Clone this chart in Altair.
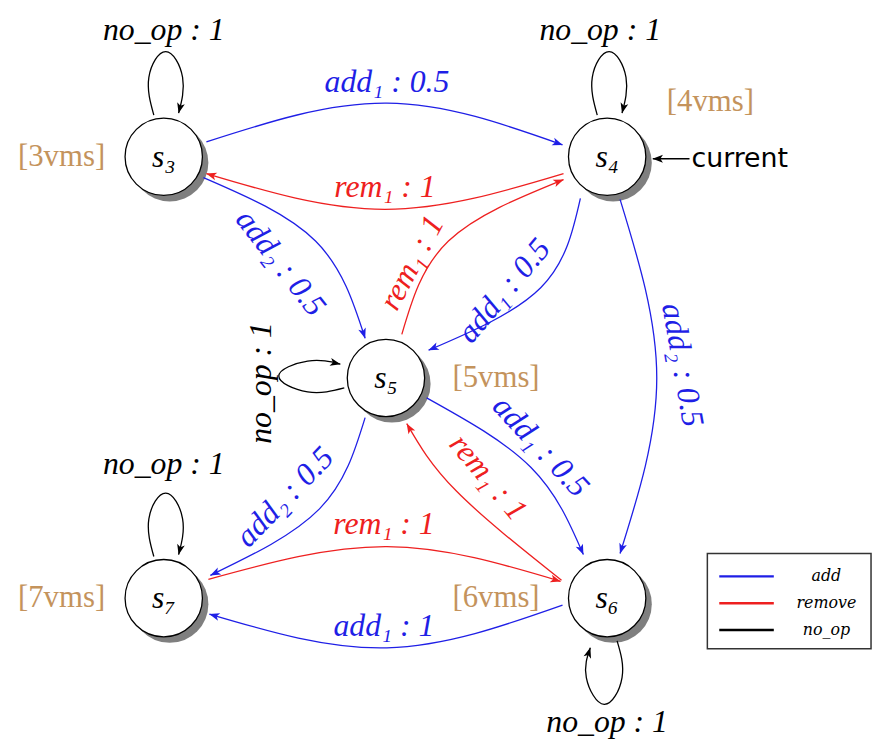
import math
import altair as alt
import pandas as pd

# ---------------- data ----------------
node_labels = ["s₃", "s₄", "s₅", "s₆", "s₇"]
node_x = [165, 612, 389, 612, 165]
node_y = [155, 155, 378, 600, 600]

vm_labels = ["[3vms]", "[4vms]", "[5vms]", "[6vms]", "[7vms]"]
vm_x = [62, 716, 500, 500, 62]
vm_y = [155, 100, 378, 600, 600]

# transitions: kind, path waypoints (start, via..., end)
edge_kind = ["add", "remove", "add", "remove", "add", "add", "add", "remove",
             "add", "remove", "add",
             "no_op", "no_op", "no_op", "no_op", "no_op", "no_op"]
edge_px = [
    [208, 390, 567],
    [568, 388, 208],
    [205, 318, 368],
    [405, 452, 568],
    [585, 545, 432],
    [625, 662, 625],
    [430, 535, 588],
    [566, 460, 410],
    [368, 322, 212],
    [210, 390, 565],
    [567, 390, 211],
    [155, 150, 167, 184, 180],
    [602, 597, 614, 631, 627],
    [347, 310, 281, 310, 343],
    [622, 627, 609, 591, 595],
    [155, 150, 167, 184, 180],
    [695, 658],
]
edge_py = [
    [140, 101, 143],
    [172, 208, 172],
    [176, 240, 338],
    [334, 240, 178],
    [197, 287, 350],
    [198, 378, 555],
    [398, 468, 556],
    [582, 492, 424],
    [418, 510, 577],
    [581, 548, 583],
    [607, 650, 616],
    [113, 75, 49, 75, 111],
    [113, 75, 49, 75, 111],
    [388, 392, 376, 361, 364],
    [643, 680, 707, 680, 650],
    [558, 520, 494, 520, 556],
    [157, 157],
]

label_text = ["add₁ : 0.5", "rem₁ : 1", "add₂ : 0.5", "rem₁ : 1", "add₁ : 0.5",
              "add₂ : 0.5", "add₁ : 0.5", "rem₁ : 1", "add₂ : 0.5", "rem₁ : 1",
              "add₁ : 1", "no_op : 1", "no_op : 1", "no_op : 1", "no_op : 1",
              "no_op : 1"]
label_kind = ["add", "remove", "add", "remove", "add", "add", "add", "remove",
              "add", "remove", "add", "no_op", "no_op", "no_op", "no_op", "no_op"]
label_x = [390, 388, 283, 415, 508, 688, 545, 492, 287, 387, 387,
           165, 605, 263, 612, 165]
label_y = [80, 186, 262, 262, 290, 365, 447, 478, 498, 525, 628,
           27, 27, 383, 725, 465]
label_angle = [0, 0, 52, 298, 310, 80, 47, 50, 314, 0, 0,
               0, 0, 270, 0, 0]

legend_labels = ["add", "remove", "no_op"]
legend_y = [578, 605, 632]

kinds = ["add", "remove", "no_op"]
kind_colors = ["#1f1fe6", "#ee2020", "#000000"]

# ---------------- tables ----------------
nodes = pd.DataFrame({"label": node_labels, "x": node_x, "y": node_y})
vms = pd.DataFrame({"label": vm_labels, "x": vm_x, "y": vm_y})

rows, heads = [], []
for e, (k, xs, ys) in enumerate(zip(edge_kind, edge_px, edge_py)):
    for i, (px, py) in enumerate(zip(xs, ys)):
        rows.append({"edge": e, "i": i, "x": px, "y": py, "kind": k})
    if len(xs) >= 3:
        dx = 0.25 * xs[-3] - 1.5 * xs[-2] + 1.25 * xs[-1]
        dy = 0.25 * ys[-3] - 1.5 * ys[-2] + 1.25 * ys[-1]
    else:
        dx, dy = xs[-1] - xs[-2], ys[-1] - ys[-2]
    n = math.hypot(dx, dy)
    ux, uy = dx / n, dy / n
    ang = math.degrees(math.atan2(uy, ux)) % 360
    heads.append({"x": xs[-1] - 5 * ux, "y": ys[-1] - 5 * uy,
                  "angle": ang, "kind": k})
edges = pd.DataFrame(rows)
arrows = pd.DataFrame(heads)

labels = pd.DataFrame({"text": label_text, "kind": label_kind, "x": label_x,
                       "y": label_y, "angle": label_angle})
legend = pd.DataFrame({"label": legend_labels, "kind": kinds, "y": legend_y})
legend_box = pd.DataFrame({"x": [713], "x2": [878], "y": [555], "y2": [651]})

W, H = 874, 733
xs_ = alt.Scale(domain=[8, 8 + W], zero=False, nice=False)
ys_ = alt.Scale(domain=[8, 8 + H], zero=False, nice=False, reverse=True)
cs_ = alt.Scale(domain=kinds, range=kind_colors)

X = lambda f="x": alt.X(f"{f}:Q", scale=xs_, axis=None)
Y = lambda f="y": alt.Y(f"{f}:Q", scale=ys_, axis=None)
C = alt.Color("kind:N", scale=cs_, legend=None)

MATH_FONT = "Liberation Serif"

shadow = alt.Chart(nodes).mark_circle(
    size=math.pi * 44 ** 2, color="#7f7f7f", opacity=1, xOffset=6, yOffset=6
).encode(x=X(), y=Y())
circle = alt.Chart(nodes).mark_circle(
    size=math.pi * 44 ** 2, fill="white", opacity=1, stroke="black",
    strokeWidth=1.3
).encode(x=X(), y=Y())
node_text = alt.Chart(nodes).mark_text(
    font=MATH_FONT, fontStyle="italic", fontSize=32, color="black"
).encode(x=X(), y=Y(), text="label:N")

vm_text = alt.Chart(vms).mark_text(
    font="Liberation Serif", fontSize=31, color="#c4935c"
).encode(x=X(), y=Y(), text="label:N")

lines = alt.Chart(edges).mark_line(interpolate="natural", strokeWidth=1.3).encode(
    x=X(), y=Y(), detail="edge:N", order="i:Q", color=C)

heads_m = alt.Chart(arrows).mark_point(
    shape="M1,0L-1,-0.75L-0.5,0L-1,0.75Z", filled=True, size=110, opacity=1,
    strokeWidth=0
).encode(x=X(), y=Y(), angle=alt.Angle("angle:Q", scale=None), color=C)

edge_text = alt.Chart(labels).mark_text(
    font=MATH_FONT, fontStyle="italic", fontSize=32
).encode(x=X(), y=Y(), text="text:N",
         angle=alt.Angle("angle:Q", scale=None), color=C)

current = alt.Chart(pd.DataFrame({"t": ["current"], "x": [697], "y": [157]})).mark_text(
    font="DejaVu Sans", fontSize=27, align="left", color="black"
).encode(x=X(), y=Y(), text="t:N")

box = alt.Chart(legend_box).mark_rect(
    fill="white", stroke="#333333", strokeWidth=1.5
).encode(x=X(), x2="x2:Q", y=Y(), y2="y2:Q")
leg_lines = alt.Chart(legend).mark_rule(strokeWidth=2.5).encode(
    x=alt.value(725 - 8), x2=alt.value(780 - 8), y=Y(), color=C)
leg_text = alt.Chart(legend).mark_text(
    font="DejaVu Serif", fontStyle="italic", fontSize=16, color="black"
).encode(x=alt.value(833 - 8), y=Y(), text="label:N")

chart = alt.layer(
    shadow, circle, lines, heads_m, node_text, vm_text, edge_text, current,
    box, leg_lines, leg_text
).properties(
    width=W, height=H, autosize=alt.AutoSizeParams(type="none"), padding=0
).configure_view(stroke=None)

chart.save("out.html", embed_options={"renderer": "svg", "actions": False})
